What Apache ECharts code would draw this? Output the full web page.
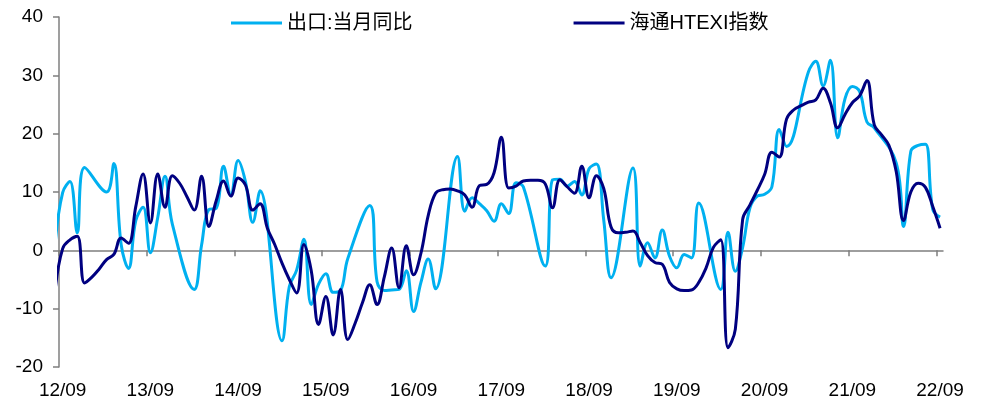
<!DOCTYPE html>
<html>
<head>
<meta charset="utf-8">
<script src="https://cdn.jsdelivr.net/npm/echarts@6/dist/echarts.min.js"></script>
<style>
  html, body { margin: 0; padding: 0; background: #fff; }
  #chart { width: 982px; height: 403px; }
</style>
</head>
<body>
<div id="chart"></div>
<script>
// Monthly observations, 2012-08 .. 2022-09 (Jan/Feb export figures are not published separately -> null)
const startYear = 2012, startMonth = 8;

const exportYoY = [
  1.5, 9.9, 11.8, 3.0, 14.2,
  null, null, 10.0, 14.9, 1.0, -3.1, 5.1, 7.4, -0.4, 5.6, 12.7, 4.5,
  null, null, -6.7, 0.9, 7.0, 7.2, 14.4, 9.5, 15.4, 11.8, 4.8, 10.2,
  null, null, -15.5, -6.2, -3.4, 1.9, -9.3, -5.8, -4.0, -7.2, -6.9, -1.4,
  null, null, 7.7, -5.4, -6.9, -6.8, -6.7, -3.5, -10.5, -5.5, -1.5, -6.6,
  null, null, 16.1, 6.7, 9.0, 8.0, 6.8, 5.0, 8.0, 6.3, 11.6, 10.9,
  null, null, -2.7, 12.1, 12.2, 11.0, 11.8, 9.5, 14.0, 14.8, 5.2, -4.7,
  null, null, 14.1, -2.7, 1.3, -1.3, 3.5, -1.0, -3.0, -0.7, -1.3, 8.1,
  null, null, -6.7, 3.1, -3.6, 0.5, 7.3, 9.3, 9.6, 10.9, 20.7, 17.8,
  null, null, 30.6, 32.4, 28.2, 32.6, 19.3, 26.0, 28.1, 27.2, 22.0, 21.0,
  null, null, 15.0, 4.1, 17.0, 18.0, 18.2, 7.0, 5.7
];

const htexi = [
  -6.5, 0.3, 1.8, 2.4, -5.6,
  -4.6, -3.2, -1.6, -0.7, 2.1, 1.2, 7.5, 13.1, 4.7, 13.1, 7.4, 12.8,
  11.5, 9.2, 6.9, 12.7, 4.1, 8.5, 11.9, 9.3, 12.4, 11.2, 6.9, 8.0,
  3.8, 1.0, -2.2, -5.0, -7.3, 1.0, -3.5, -12.7, -7.9, -14.5, -6.7, -15.3,
  -12.5, -9.0, -5.9, -9.3, -4.5, 0.4, -6.4, 0.8, -4.2, -0.5, 6.0, 9.8,
  10.4, 10.5, 10.2, 9.5, 7.4, 11.1, 11.3, 13.3, 19.4, 10.7, 11.0, 11.9,
  12.0, 12.0, 11.4, 7.3, 12.1, 10.9, 9.8, 14.4, 9.0, 12.8, 10.6, 4.0,
  3.0, 3.1, 3.3, 1.3, -0.9, -2.1, -2.4, -5.5, -6.6, -6.9, -6.8, -5.5,
  -3.0, 0.5, 1.8, -16.7, -13.5, 5.3, 7.8, 10.3, 13.0, 16.8, 16.0, 22.5,
  24.1, 24.8, 25.4, 25.8, 27.8, 25.3, 21.0, 23.3, 25.3, 26.5, 29.1, 21.5,
  19.8, 18.0, 13.5, 5.1, 10.0, 11.5, 10.8, 7.5, 3.8
];

const xTickLabels = ['12/09', '13/09', '14/09', '15/09', '16/09', '17/09',
                     '18/09', '19/09', '20/09', '21/09', '22/09'];
const seriesNames = ['出口:当月同比', '海通HTEXI指数'];

// x is measured in months since 2012-09-01; each observation sits mid-month
function monthOffset(i) {
  const y = startYear + Math.floor((startMonth - 1 + i) / 12);
  const m = (startMonth - 1 + i) % 12 + 1;
  return (y - 2012) * 12 + (m - 9) + 0.5;
}
const toPairs = arr => arr.map((v, i) => [monthOffset(i), v]);

const tickVals = xTickLabels.map((_, k) => k * 12);
const labelVals = xTickLabels.map((_, k) => k * 12 + 0.5);
const xMax = 120.9;

const axisGray = '#7f7f7f';
const latin = '"Liberation Sans", Arial, "Noto Sans CJK SC", sans-serif';

const chart = echarts.init(document.getElementById('chart'), null, { renderer: 'canvas' });
chart.setOption({
  animation: false,
  backgroundColor: '#ffffff',
  grid: { left: 59, top: 17, width: 884, height: 350, containLabel: false },
  legend: {
    top: 13,
    left: 231,
    padding: 0,
    icon: 'rect',
    itemWidth: 51,
    itemHeight: 3,
    itemGap: 161,
    textStyle: { fontSize: 20, color: '#000', fontFamily: latin },
    data: seriesNames
  },
  xAxis: [
    {
      type: 'value', min: 0, max: xMax, position: 'bottom',
      axisLine: { show: true, onZero: true, lineStyle: { color: axisGray, width: 1.5 } },
      axisTick: { show: true, customValues: tickVals, length: 6, inside: false,
                  lineStyle: { color: axisGray, width: 1.5 } },
      axisLabel: { show: false },
      splitLine: { show: false }
    },
    {
      type: 'value', min: 0, max: xMax, position: 'bottom',
      axisLine: { show: false, onZero: false },
      axisTick: { show: false },
      axisLabel: {
        show: true, customValues: labelVals, margin: 14,
        fontSize: 19, color: '#000', fontFamily: latin,
        formatter: v => xTickLabels[Math.round((v - 0.5) / 12)] || ''
      },
      splitLine: { show: false }
    }
  ],
  yAxis: {
    type: 'value', min: -20, max: 40, interval: 10,
    axisLine: { show: true, lineStyle: { color: axisGray, width: 1.5 } },
    axisTick: { show: true, length: 6, lineStyle: { color: axisGray, width: 1.5 } },
    axisLabel: { fontSize: 19, color: '#000', fontFamily: latin, margin: 16 },
    splitLine: { show: false }
  },
  series: [
    {
      name: seriesNames[0], type: 'line', xAxisIndex: 0,
      data: toPairs(exportYoY), connectNulls: true,
      smooth: 0.4, symbol: 'none', clip: true,
      lineStyle: { color: '#00b0f0', width: 3 },
      itemStyle: { color: '#00b0f0' }
    },
    {
      name: seriesNames[1], type: 'line', xAxisIndex: 0,
      data: toPairs(htexi), connectNulls: true,
      smooth: 0.4, symbol: 'none', clip: true,
      lineStyle: { color: '#000080', width: 3 },
      itemStyle: { color: '#000080' }
    }
  ]
});
</script>
</body>
</html>
